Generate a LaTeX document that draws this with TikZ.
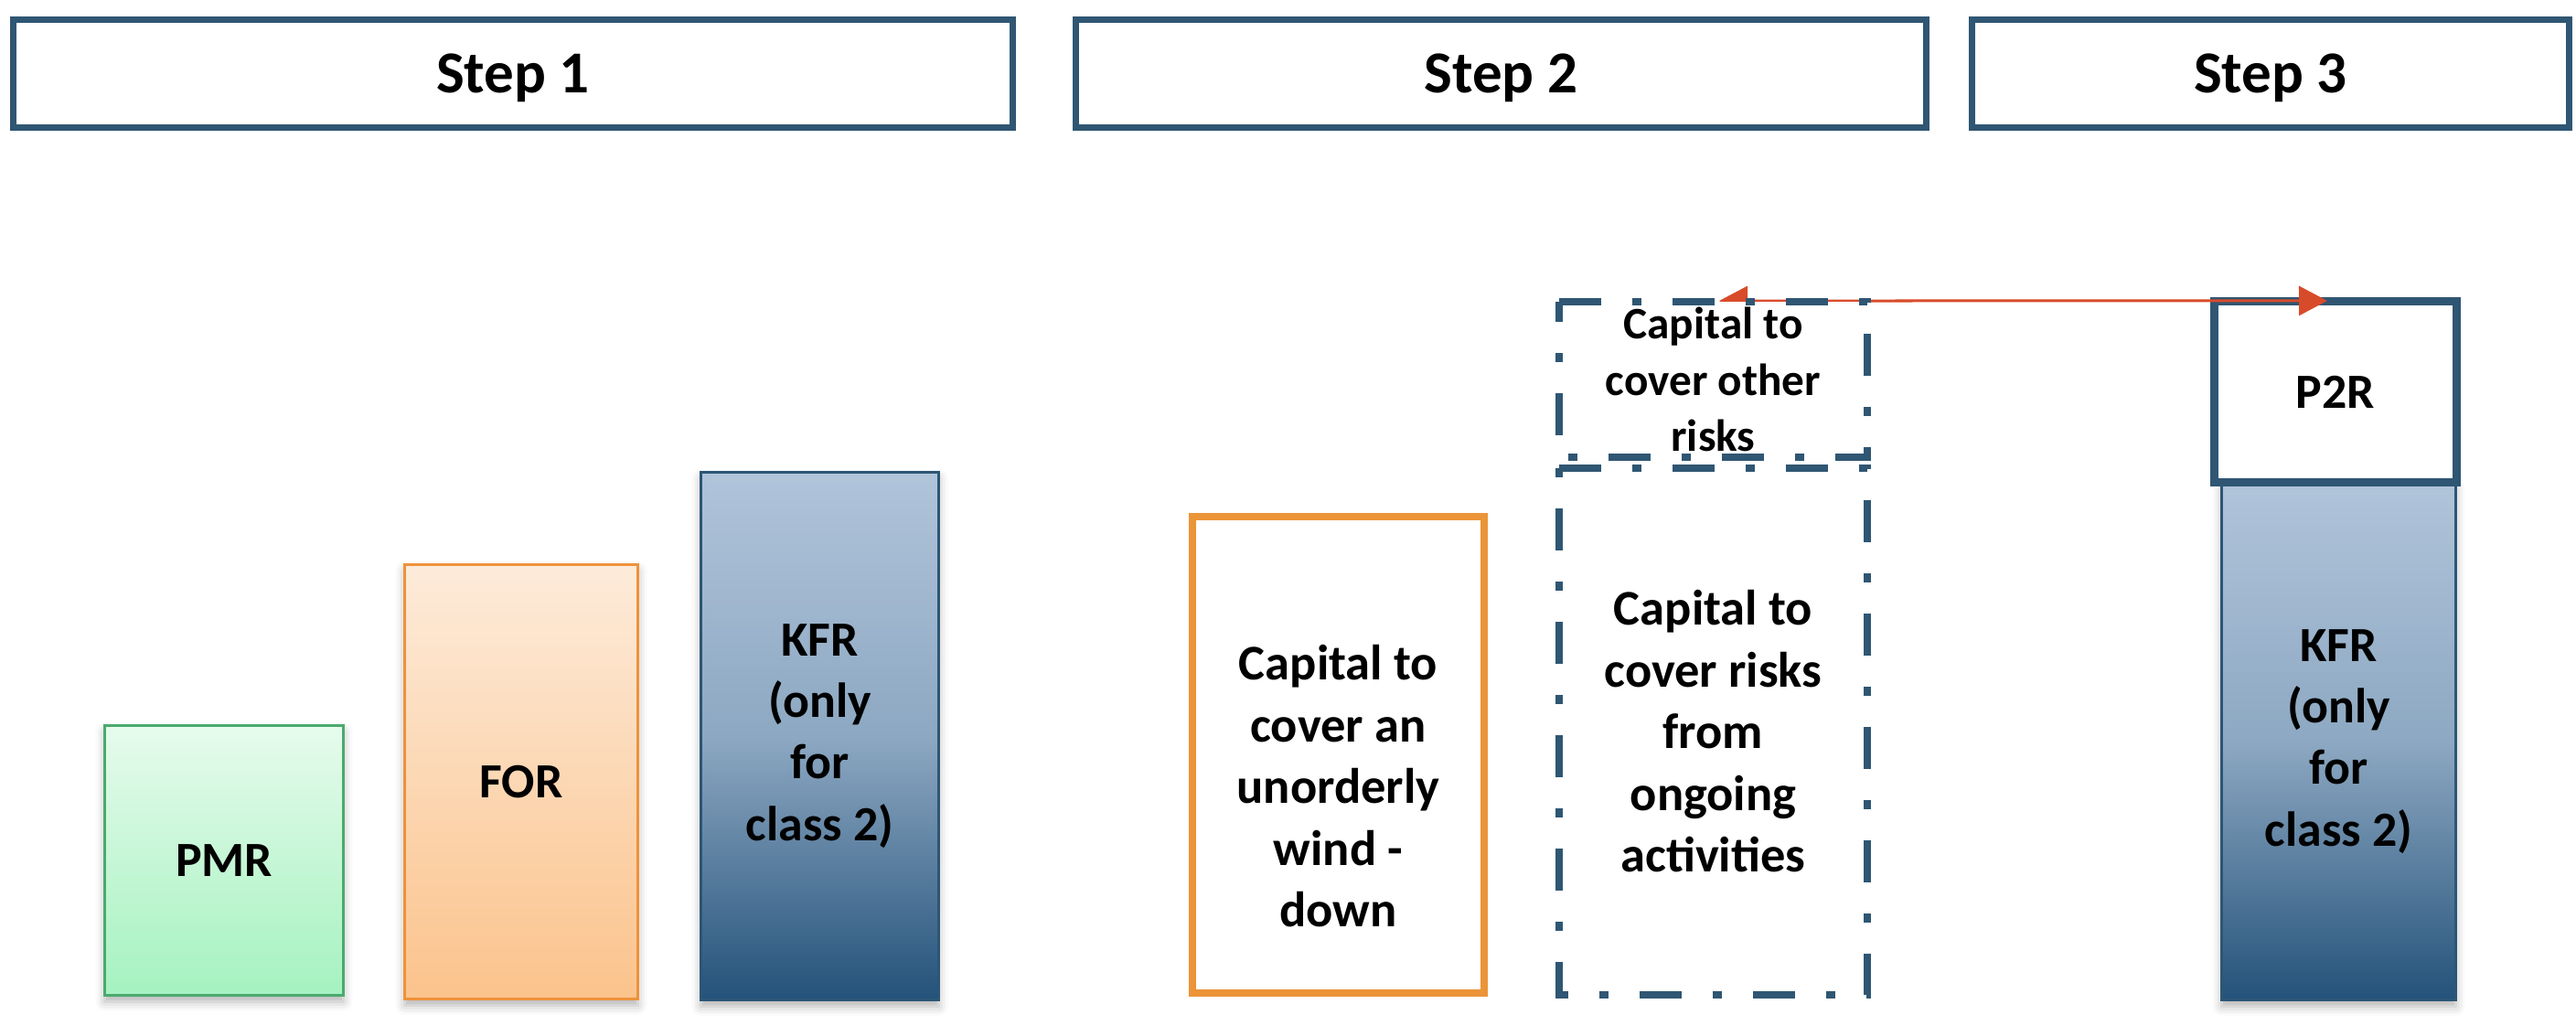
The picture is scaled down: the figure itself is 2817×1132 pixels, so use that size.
\documentclass[tikz,border=0pt]{standalone}
\usepackage{fontspec}
\setmainfont{Carlito}
\usetikzlibrary{arrows.meta,shadows.blur}
\definecolor{stepblue}{RGB}{47,86,115}
\definecolor{arrred}{RGB}{216,75,42}
\definecolor{wdorange}{RGB}{235,148,56}
\definecolor{pmrline}{RGB}{74,170,110}
\definecolor{pmrtop}{RGB}{230,251,236}
\definecolor{pmrbot}{RGB}{165,242,192}
\definecolor{forline}{RGB}{238,146,58}
\definecolor{fortop}{RGB}{253,235,218}
\definecolor{forbot}{RGB}{251,195,140}
\definecolor{kfrline}{RGB}{44,86,118}
\definecolor{kfrtop}{RGB}{176,196,218}
\definecolor{kfrmid}{RGB}{141,168,194}
\definecolor{kfrbot}{RGB}{36,82,122}
\begin{document}
\begin{tikzpicture}[x=0.01cm,y=-0.01cm,
  every node/.style={outer sep=0pt,inner sep=0pt},
  stepbox/.style={draw=stepblue,line width=0.07cm,fill=white,text depth=0pt,
    font=\bfseries\fontsize{18.5}{22}\selectfont},
  barbox/.style={line width=0.03cm,align=center,
    font=\bfseries\fontsize{15.3}{19.1}\selectfont,
    blur shadow={shadow xshift=0cm,shadow yshift=-0.07cm,shadow blur radius=0.1cm,shadow opacity=30}},
  pmrbox/.style={barbox,draw=pmrline,top color=pmrtop,bottom color=pmrbot},
  forbox/.style={barbox,draw=forline,top color=fortop,bottom color=forbot},
  kfrbox/.style={barbox,draw=kfrline,top color=kfrtop,bottom color=kfrbot,middle color=kfrmid},
  captext/.style={align=center,font=\bfseries\fontsize{15.5}{19.2}\selectfont},
  smalltext/.style={align=center,font=\bfseries\fontsize{14}{17.4}\selectfont},
  dashbord/.style={draw=stepblue,line width=0.08cm,
    dash pattern=on 0.46cm off 0.34cm on 0.1cm off 0.34cm},
  arrowline/.style={draw=arrred,line width=0.03cm,
    {Triangle[length=0.31cm,width=0.32cm]}-{Triangle[length=0.31cm,width=0.32cm]}}
]
\useasboundingbox (0,0) rectangle (2817,1132);

% step headers
\node[stepbox,minimum width=10.93cm,minimum height=1.18cm] (s1) at (561,80.5) {Step 1};
\node[stepbox,minimum width=9.30cm,minimum height=1.18cm] (s2) at (1641.5,80.5) {Step 2};
\node[stepbox,minimum width=6.53cm,minimum height=1.18cm] (s3) at (2483,80.5) {Step 3};

% step 1 bars
\node[pmrbox,minimum width=2.61cm,minimum height=2.95cm] (pmr) at (245,941) {PMR};
\node[forbox,minimum width=2.55cm,minimum height=4.75cm] (for) at (570,855) {FOR};
\node[kfrbox,minimum width=2.60cm,minimum height=5.77cm] (kfr1) at (896.5,805) {KFR\\(only\\for\\class 2)};

% step 2
\node[draw=wdorange,line width=0.08cm,fill=white,minimum width=3.19cm,minimum height=5.21cm] (wind) at (1463.5,825.5) {};
\node[captext] (windtxt) at (1463.5,860) {Capital to\\cover an\\unorderly\\wind -\\down};

% step 3
\node[kfrbox,minimum width=2.56cm,minimum height=5.65cm] (kfr3) at (2557.5,811) {KFR\\(only\\for\\class 2)};
\node[draw=stepblue,line width=0.09cm,fill=white,minimum width=2.64cm,minimum height=1.97cm,
  font=\bfseries\fontsize{15.3}{19.1}\selectfont] (p2r) at (2554,428.5) {P2R};

% arrow
\coordinate (arrL) at (1880,329);
\coordinate (arrR) at ([xshift=1.23cm,yshift=0.01cm]p2r.north west);
\draw[arrowline] (arrL) -- (arrR);

% dashed boxes
\node[fill=white,minimum width=3.37cm,minimum height=1.70cm,smalltext] (other) at (1873.5,415) {Capital to\\cover other\\risks};
\draw[dashbord] (other.north west) -- (other.north east) -- (other.south east) -- (other.south west) -- cycle;
\node[fill=white,minimum width=3.37cm,minimum height=5.76cm,captext] (ongoing) at (1873.5,800) {Capital to\\cover risks\\from\\ongoing\\activities};
\draw[dashbord] (ongoing.north west) -- (ongoing.north east) -- (ongoing.south east) -- (ongoing.south west) -- cycle;
\end{tikzpicture}
\end{document}
